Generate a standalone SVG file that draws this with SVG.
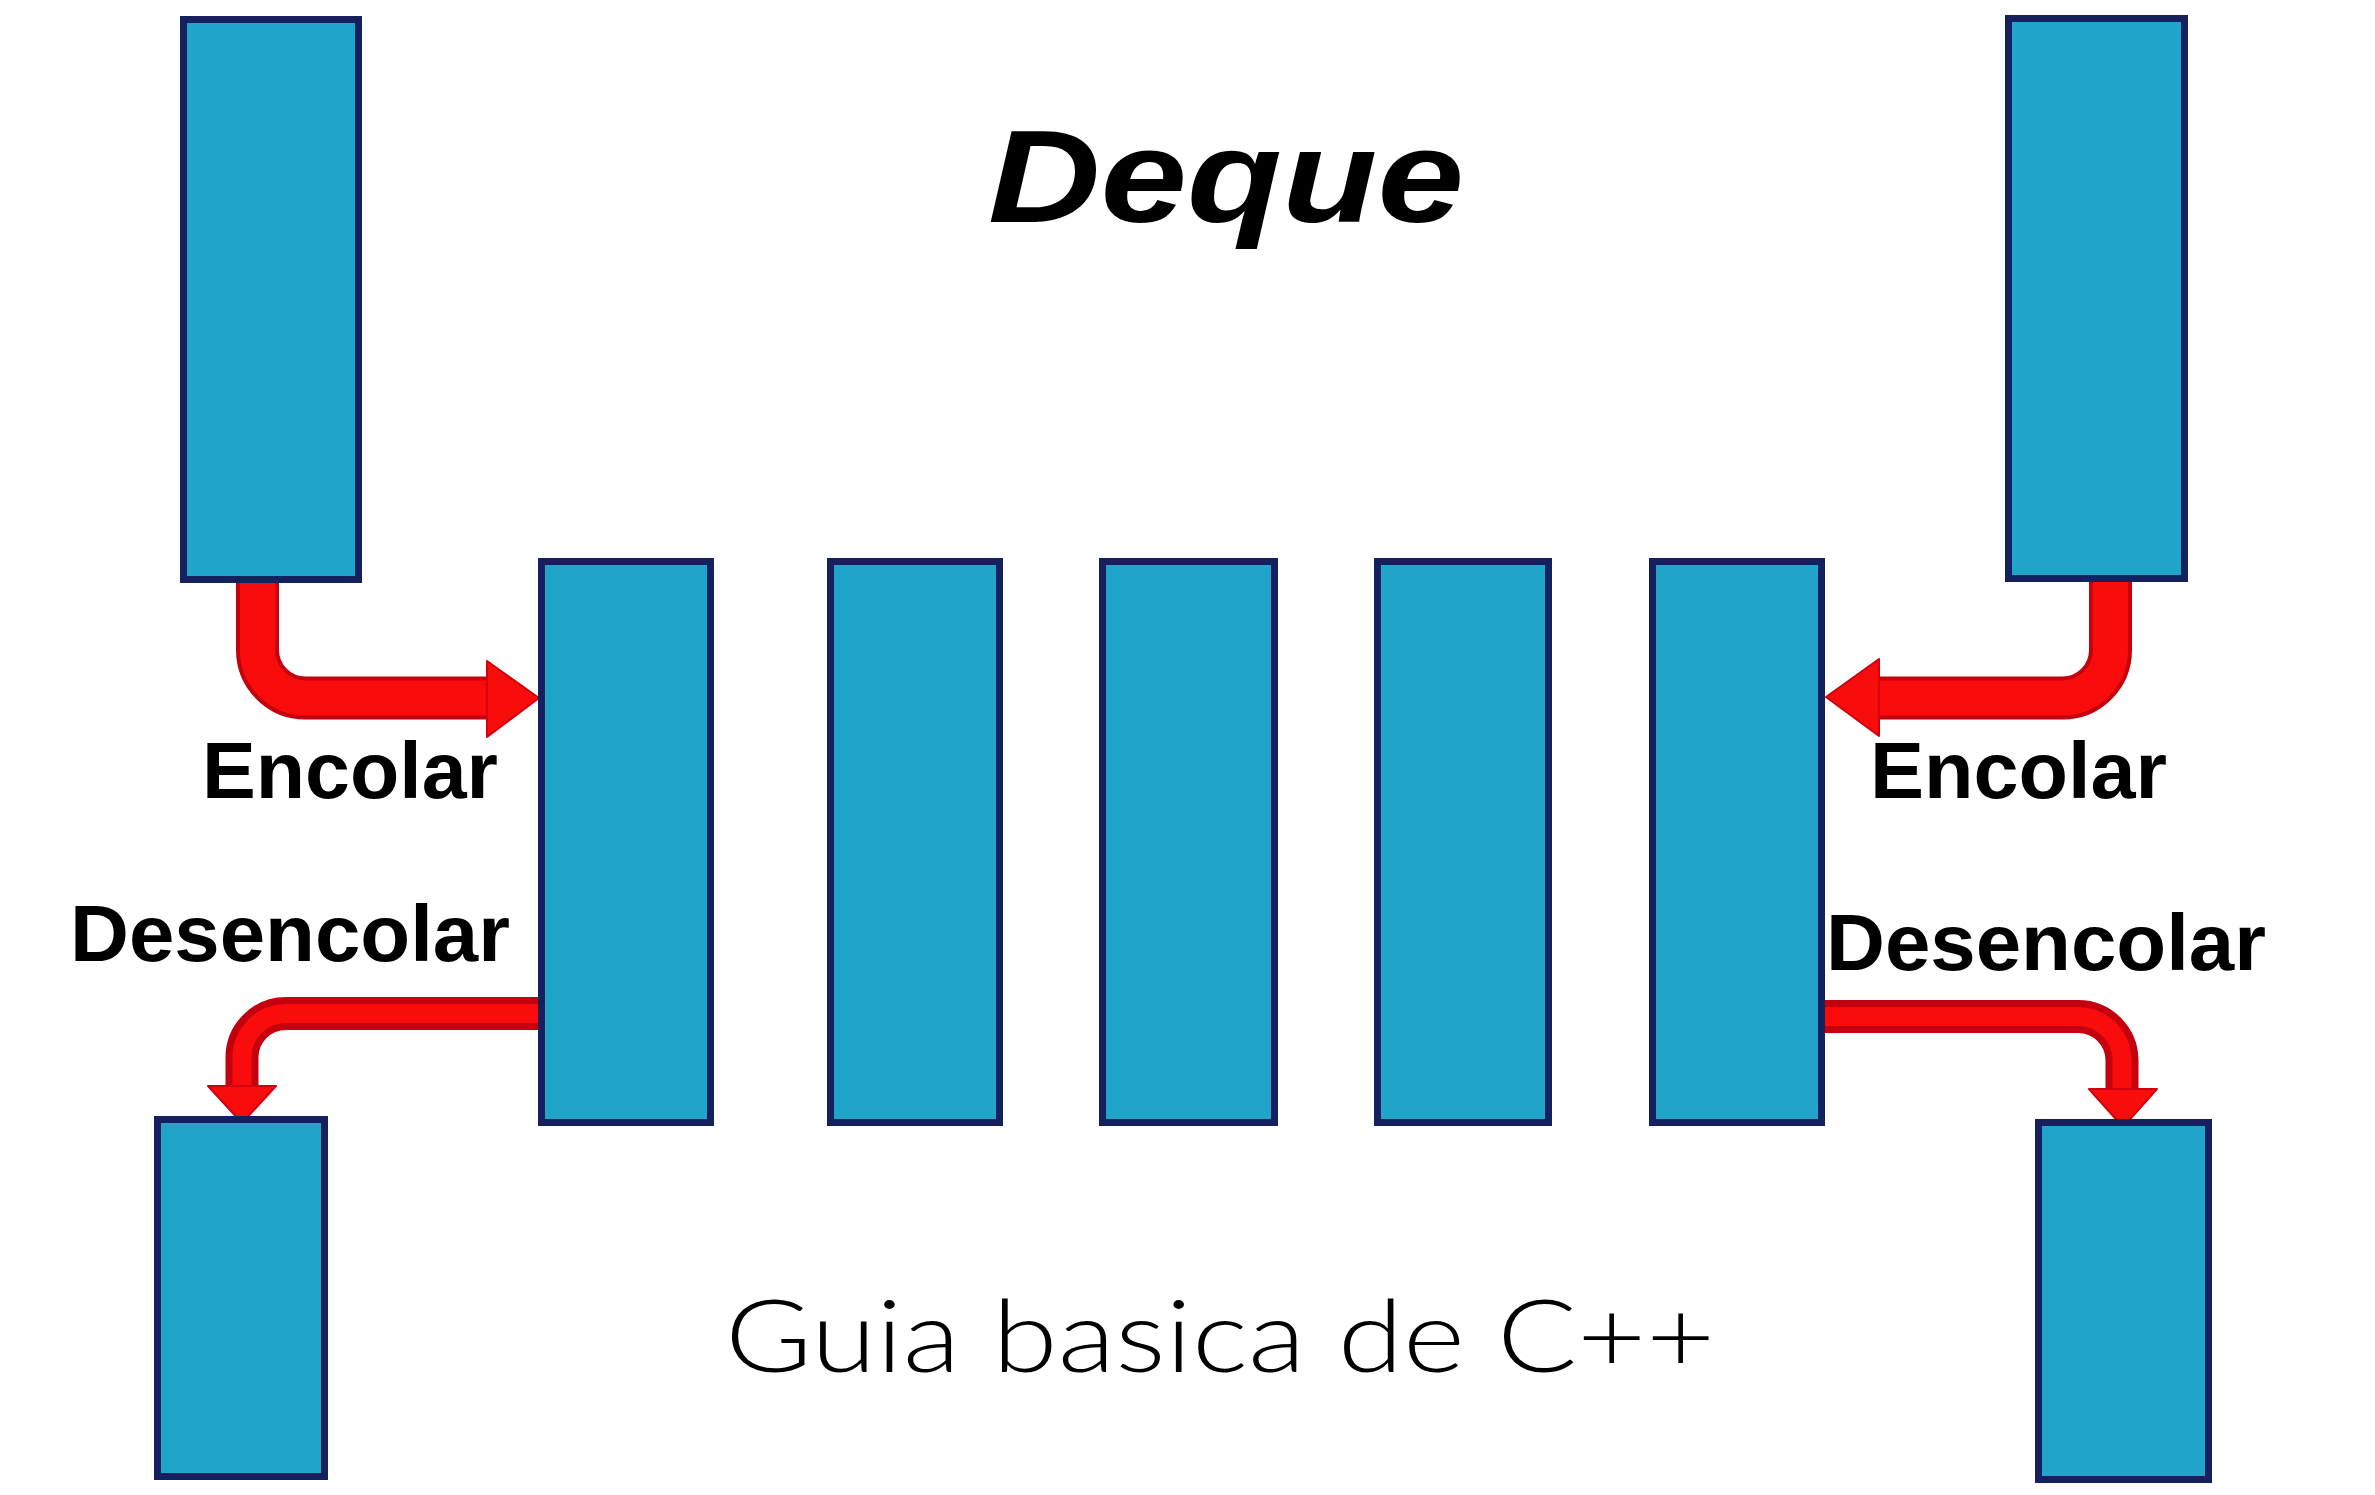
<svg xmlns="http://www.w3.org/2000/svg" width="2375" height="1495" viewBox="0 0 2375 1495">
<style>
.box{fill:#20A4CA;stroke:#14215E;stroke-width:7}
.shaft-dark{fill:none;stroke:#C4000E;stroke-linejoin:round}
.shaft-lite{fill:none;stroke:#FA0C0C;stroke-linejoin:round}
.head{fill:#F80C0C;stroke:#D0000E;stroke-width:2;stroke-linejoin:round}
.lbl{font-family:"Liberation Sans",Arial,sans-serif;font-weight:bold;font-size:79px;fill:#000}
.title{font-family:"Liberation Sans",Arial,sans-serif;font-weight:bold;font-style:italic;font-size:131px;fill:#000}
.sub{font-family:Lato,"Liberation Sans",sans-serif;font-weight:300;font-size:100px;fill:#000}
</style>
<rect width="2375" height="1495" fill="#FFFFFF"/>

<g id="connectors">
  <!-- left encolar -->
  <path class="shaft-dark" stroke-width="43" d="M257.5,580 V650 A48,48 0 0 0 305.5,698 H490"/>
  <path class="shaft-lite" stroke-width="35" d="M257.5,580 V650 A48,48 0 0 0 305.5,698 H490"/>
  <polygon class="head" points="487,661 539,698 487,737"/>
  <!-- right encolar -->
  <path class="shaft-dark" stroke-width="43" d="M2110.5,579 V650 A48,48 0 0 1 2062.5,698 H1876"/>
  <path class="shaft-lite" stroke-width="35" d="M2110.5,579 V650 A48,48 0 0 1 2062.5,698 H1876"/>
  <polygon class="head" points="1879,659 1826,697 1879,736"/>
  <!-- left desencolar -->
  <path class="shaft-dark" stroke-width="33" d="M538,1013.5 H286 A44,44 0 0 0 242,1057.5 V1089"/>
  <path class="shaft-lite" stroke-width="19" d="M538,1013.5 H286 A44,44 0 0 0 242,1057.5 V1089"/>
  <polygon class="head" points="208,1086 276,1086 242,1123"/>
  <!-- right desencolar -->
  <path class="shaft-dark" stroke-width="33" d="M1823,1016.5 H2078 A44,44 0 0 1 2122,1060.5 V1092"/>
  <path class="shaft-lite" stroke-width="19" d="M1823,1016.5 H2078 A44,44 0 0 1 2122,1060.5 V1092"/>
  <polygon class="head" points="2089,1089 2157,1089 2123,1127"/>
</g>

<g id="in-left"><rect class="box" x="183.5" y="19.5" width="175" height="560"/></g>
<g id="in-right"><rect class="box" x="2008.5" y="18.5" width="176" height="560"/></g>
<g id="deque-1"><rect class="box" x="541.5" y="561.5" width="169" height="561"/></g>
<g id="deque-2"><rect class="box" x="830.5" y="561.5" width="169" height="561"/></g>
<g id="deque-3"><rect class="box" x="1102.5" y="561.5" width="172" height="561"/></g>
<g id="deque-4"><rect class="box" x="1377.5" y="561.5" width="171" height="561"/></g>
<g id="deque-5"><rect class="box" x="1652.5" y="561.5" width="169" height="561"/></g>
<g id="out-left"><rect class="box" x="157.5" y="1119.5" width="167" height="357"/></g>
<g id="out-right"><rect class="box" x="2038.5" y="1122.5" width="170" height="357"/></g>

<g id="labels">
  <text class="title" x="988" y="222" textLength="476" lengthAdjust="spacingAndGlyphs">Deque</text>
  <text class="lbl" x="202" y="798" textLength="296" lengthAdjust="spacingAndGlyphs">Encolar</text>
  <text class="lbl" x="1870" y="798" textLength="297" lengthAdjust="spacingAndGlyphs">Encolar</text>
  <text class="lbl" x="70" y="961" textLength="440" lengthAdjust="spacingAndGlyphs">Desencolar</text>
  <text class="lbl" x="1826" y="970" textLength="440" lengthAdjust="spacingAndGlyphs">Desencolar</text>
  <text class="sub" x="725" y="1372" textLength="990" lengthAdjust="spacingAndGlyphs">Guia basica de C++</text>
</g>
</svg>
